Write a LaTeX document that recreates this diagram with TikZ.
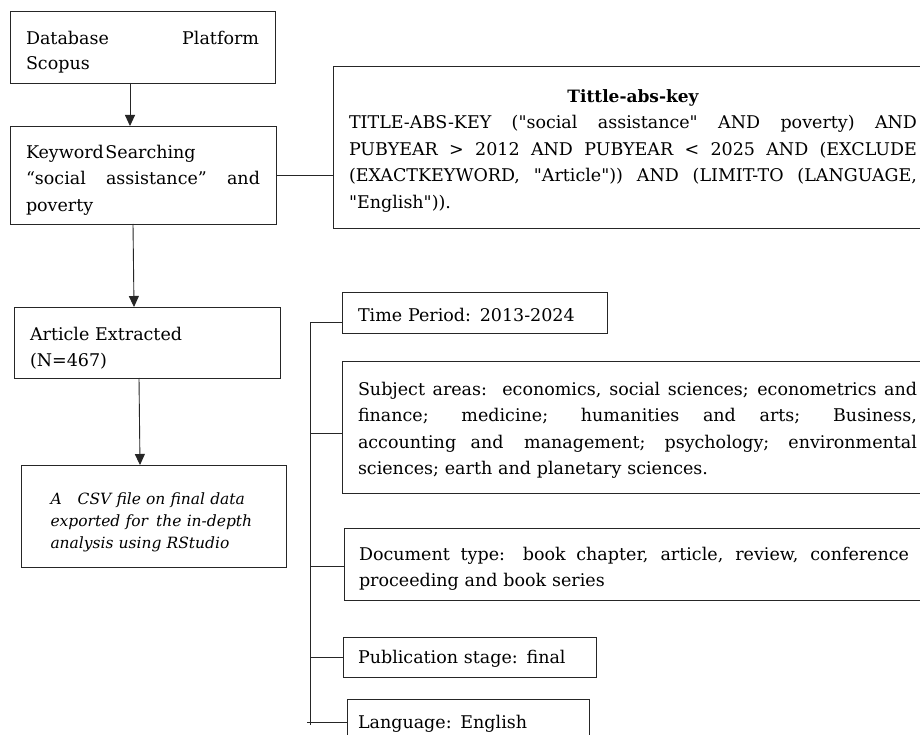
\documentclass[tikz,border=0pt]{standalone}
\usepackage{fontspec}
\setmainfont{DejaVu Serif}[Ligatures=TeXOff]
\usetikzlibrary{arrows.meta,calc}
\setlength{\parindent}{0pt}
\newcommand{\mainsz}{\fontsize{17.5}{26.5}\selectfont}
\newcommand{\jl}[2]{{\spaceskip=0pt\xspaceskip=0pt\makebox[#1][s]{#2}}}
\newcommand{\dn}[1]{\rule{0pt}{#1}}
\begin{document}
\begin{tikzpicture}[x=1pt,y=-1pt,
  every node/.style={inner sep=0pt, outer sep=0pt},
  boxA/.style={draw=black!85, line width=0.9pt, anchor=north west, align=left, font=\mainsz},
  arr/.style={line width=0.9pt, draw=black!85, -{Triangle[length=11pt,width=10pt]}},
  con/.style={line width=0.9pt, draw=black!85}]
\useasboundingbox (0,0) rectangle (920,735);
\clip (0,0) rectangle (920,735);
\fill[white] (0,0) rectangle (920,735);

% left column
\node[boxA, minimum width=265pt, minimum height=72pt, text width=233pt, inner xsep=16pt,
  font=\fontsize{17.5}{25}\selectfont] (b1) at (10,11)
  {\dn{23.8pt}\jl{233pt}{Database Platform}\\Scopus};
\node[boxA, minimum width=266pt, minimum height=98pt, text width=234pt, inner xsep=16pt] (b2) at (10,126)
  {\dn{23.3pt}Keyword\hspace{1.5pt}Searching\\\jl{234pt}{“social assistance” and}\\poverty};
\node[boxA, minimum width=266pt, minimum height=71pt, text width=234pt, inner xsep=15pt] (b4) at (14,307)
  {\dn{24.3pt}Article Extracted\\(N=467)};
\node[boxA, minimum width=265pt, minimum height=102pt, text width=206pt, inner xsep=29.5pt,
  font=\fontsize{15.5}{22}\selectfont\itshape] (b5) at (21,465)
  {\dn{23.8pt}A\hspace{16pt}CSV file on final data\\exported for\hspace{3pt} the in-depth\\analysis using RStudio};

% query box
\node[boxA, minimum width=600pt, minimum height=162pt, text width=568pt, inner xsep=16pt] (b3) at (333,66)
  {\hbox to 568pt{\hfil\fontsize{17}{26.5}\selectfont\bfseries\dn{20pt}Tittle-abs-key\hfil}\\
   \jl{568pt}{TITLE-ABS-KEY ("social assistance" AND poverty) AND}\\
   \jl{568pt}{PUBYEAR > 2012 AND PUBYEAR < 2025 AND (EXCLUDE}\\
   \jl{568pt}{(EXACTKEYWORD, "Article")) AND (LIMIT-TO (LANGUAGE,}\\
   "English")).};

% criteria boxes
\node[boxA, minimum width=265pt, minimum height=41pt, text width=233pt, inner xsep=16pt] (tp) at (342,292)
  {\dn{17.3pt}Time Period: 2013-2024};
\node[boxA, minimum width=591pt, minimum height=132pt, text width=559pt, inner xsep=16pt] (sa) at (342,361)
  {\dn{20.3pt}\jl{559pt}{Subject areas:\hspace{4pt} economics, social sciences; econometrics and}\\
   \jl{559pt}{finance; medicine; humanities and arts; Business,}\\
   \jl{559pt}{accounting and\hspace{6pt} management; psychology; environmental}\\
   sciences; earth and planetary sciences.};
\node[boxA, minimum width=589pt, minimum height=72pt, text width=559pt, inner xsep=14pt] (dt) at (344,528)
  {\dn{23.3pt}\jl{550pt}{Document type: book chapter, article, review, conference}\\proceeding and book series};
\node[boxA, minimum width=253pt, minimum height=40pt, text width=223pt, inner xsep=15pt] (ps) at (343,637)
  {\dn{17.3pt}Publication stage: final};
\node[boxA, minimum width=242pt, minimum height=42pt, text width=220pt, inner xsep=11pt] (lg) at (347,699)
  {\dn{21.3pt}Language: English};

% arrows
\draw[arr] ([xshift=-12.5pt]b1.south) -- ([xshift=-13pt]b2.north);
\draw[arr] ([xshift=-10pt]b2.south) -- ([xshift=-13pt]b4.north);
\draw[arr] ([xshift=-8pt]b4.south) -- ([xshift=-13.5pt]b5.north);
\draw[con] (b2.east) -- (b2.east -| b3.west);

% spine
\coordinate (k1) at (310,322);
\coordinate (k2) at (310,433);
\coordinate (k3) at (310,566);
\coordinate (k4) at (310,657);
\coordinate (k5) at (310,722);
\coordinate (kend) at (310,725);
\draw[con] (k1) -- (kend);
\draw[con] (k1) -- (k1 -| tp.west);
\draw[con] (k2) -- (k2 -| sa.west);
\draw[con] (k3) -- (k3 -| dt.west);
\draw[con] (k4) -- (k4 -| ps.west);
\draw[con] ([xshift=-3pt]k5) -- (k5 -| lg.west);
\end{tikzpicture}
\end{document}
